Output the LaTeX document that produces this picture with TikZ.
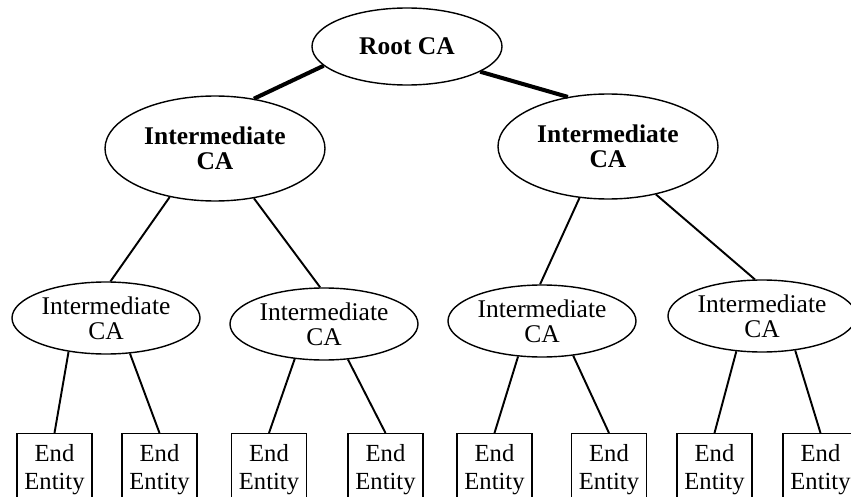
\documentclass[tikz,border=0pt]{standalone}
\usepackage{fontspec}
\setmainfont{Liberation Serif}
\usetikzlibrary{shapes.geometric}
\tikzset{
  rootca/.style={ellipse, draw, line width=0.8pt, inner sep=0pt, minimum width=3.8cm, minimum height=1.54cm,
                 font=\fontsize{14.5}{14}\selectfont\bfseries},
  bigca/.style={ellipse, draw, line width=0.8pt, inner sep=0pt, minimum width=4.4cm, minimum height=2.1cm,
                align=center, font=\fontsize{14.5}{14.2}\selectfont\bfseries},
  smallca/.style={ellipse, draw, line width=0.8pt, inner sep=0pt, minimum width=3.76cm, minimum height=1.44cm,
                  align=center, font=\fontsize{14.5}{14.4}\selectfont},
  endbox/.style={rectangle, draw, line width=0.8pt, inner sep=0pt, minimum width=1.5cm, minimum height=1.44cm,
                 anchor=north, align=center, font=\fontsize{14}{15.9}\selectfont},
  rootlink/.style={line width=2.3pt},
  link/.style={line width=1.1pt}
}
\begin{document}
\begin{tikzpicture}
\useasboundingbox (0,0) rectangle (17.02,9.92);
% CA hierarchy
\node[rootca] (root) at (8.14,8.99) {Root CA};
\node[bigca] (ia) at (4.30,6.95) {Intermediate\\CA};
\node[bigca] (ib) at (12.16,6.99) {Intermediate\\CA};
\node[smallca] (la) at (2.12,3.56) {Intermediate\\CA};
\node[smallca] (lb) at (6.48,3.44) {Intermediate\\CA};
\node[smallca] (ra) at (10.84,3.50) {Intermediate\\CA};
\node[smallca] (rb) at (15.24,3.60) {Intermediate\\CA};
\foreach \x/\n in {1.09/e1,3.19/e2,5.38/e3,7.71/e4,9.89/e5,12.18/e6,14.29/e7,16.41/e8}
  \node[endbox] (\n) at (\x,1.26) {End\\Entity};
% links
\draw[rootlink] (root.193) -- (ia.52.5);
\draw[rootlink] (root.341.4) -- (ib.129);
\draw[link] (ia.227) -- (la.83);
\draw[link] (ia.308) -- (lb.96);
\draw[link] (ib.241) -- (ra.93);
\draw[link] (ib.315) -- (rb.101);
\foreach \c/\a/\b/\p/\q in {la/222/304/e1/e2,lb/230/304/e3/e4,ra/236/312/e5/e6,rb/234/314/e7/e8}
  {\draw[link] (\c.\a) -- (\p.north);
   \draw[link] (\c.\b) -- (\q.north);}
\end{tikzpicture}
\end{document}
